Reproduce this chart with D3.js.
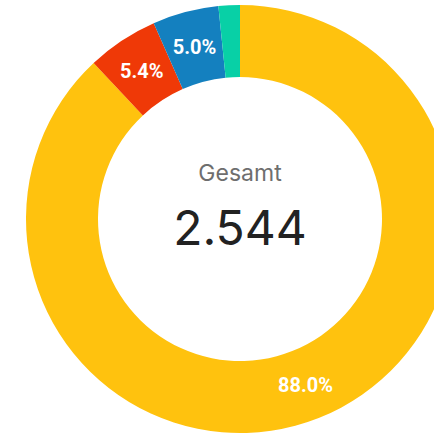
<!DOCTYPE html>
<html>
<head>
<meta charset="utf-8">
<script src="https://cdn.jsdelivr.net/npm/d3@7"></script>
<style>
  body { margin: 0; background: #fff; }
  svg { display: block; }
</style>
</head>
<body>
<div id="chart"></div>
<script>
const categories = ['A', 'B', 'C', 'D']
const values = [2239, 137, 127, 41]
const colors = ['#FFC20E', '#EF3907', '#1480BF', '#08D0A6']
const centerTitle = 'Gesamt'
const centerValue = '2.544'

const width = 434
const height = 436
const cx = 240, cy = 219
const outerR = 214, innerR = 142

const svg = d3.select('#chart')
  .append('svg')
  .attr('width', width)
  .attr('height', height)

const g = svg.append('g')
  .attr('transform', 'translate(' + cx + ',' + cy + ')')

const data = categories.map(function(c, i) { return {name: c, value: values[i], color: colors[i]} })
const total = d3.sum(values)

const pie = d3.pie()
  .sort(null)
  .value(function(d) { return d.value })

const arc = d3.arc()
  .innerRadius(innerR)
  .outerRadius(outerR)

const arcs = pie(data)

g.selectAll('path')
  .data(arcs)
  .enter()
  .append('path')
  .attr('d', arc)
  .attr('fill', function(d) { return d.data.color })

// percentage labels, small slices skipped
g.selectAll('text.pct')
  .data(arcs.filter(function(d) { return d.data.value / total > 0.03 }))
  .enter()
  .append('text')
  .attr('class', 'pct')
  .attr('transform', function(d) { return 'translate(' + arc.centroid(d) + ')' })
  .attr('text-anchor', 'middle')
  .attr('dy', '0.36em')
  .attr('fill', '#fff')
  .style('font-family', 'Roboto, sans-serif')
  .style('font-weight', 'bold')
  .style('font-size', '20px')
  .text(function(d) { return (d.data.value / total * 100).toFixed(1) + '%' })

g.append('text')
  .attr('y', -46)
  .attr('text-anchor', 'middle')
  .attr('dy', '0.36em')
  .attr('fill', '#6e6e6e')
  .style('font-family', 'Inter, sans-serif')
  .style('font-size', '23px')
  .text(centerTitle)

g.append('text')
  .attr('y', 9)
  .attr('text-anchor', 'middle')
  .attr('dy', '0.36em')
  .attr('fill', '#222')
  .style('font-family', 'Inter, sans-serif')
  .style('font-size', '48px')
  .text(centerValue)
</script>
</body>
</html>
